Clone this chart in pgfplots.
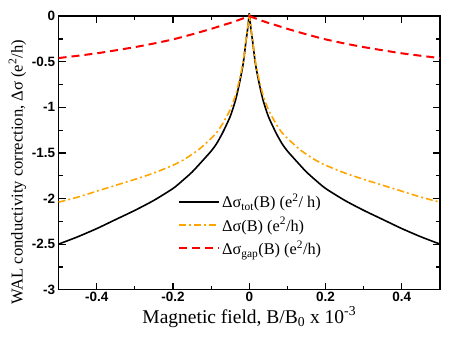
\documentclass[border=0pt]{standalone}
\usepackage{fontspec}
\setmainfont{Liberation Serif}
\setsansfont{Liberation Sans}
\usepackage{pgfplots}
\pgfplotsset{compat=1.18}
\definecolor{walOrange}{RGB}{255,165,0}
\definecolor{walRed}{RGB}{255,0,0}

\begin{document}
\begin{tikzpicture}
% page = 450 x 341 px, 1px = 1pt; axis box placed at (0,0)
\useasboundingbox (-58.6pt,-51.3pt) rectangle (391.4pt,289.7pt);
\begin{axis}[
  scale only axis,
  width=381.4pt, height=273.6pt,
  xmin=-0.5, xmax=0.5, ymin=-3, ymax=0,
  xtick={-0.4,-0.2,0,0.2,0.4},
  xticklabels={-0.4,-0.2,0,0.2,0.4},
  minor xtick={-0.3,-0.1,0.1,0.3},
  ytick={-3,-2.5,-2,-1.5,-1,-0.5,0},
  yticklabels={-3,-2.5,-2,-1.5,-1,-0.5,0},
  minor ytick={-2.75,-2.25,-1.75,-1.25,-0.75,-0.25},
  tick align=inside,
  major tick length=7pt, minor tick length=4pt,
  tick style={line width=1.2pt, black},
  axis line style={line width=1.4pt},
  ticklabel style={font=\sffamily\bfseries\fontsize{13.5}{15}\selectfont},
  xticklabel style={yshift=1pt},
  xlabel={Magnetic field, B/B\textsubscript{0} x 10\textsuperscript{-3}},
  xlabel style={at={(axis description cs:0.5,-0.1)}, anchor=center,
                font=\fontsize{19.5}{21}\selectfont},
  ylabel={WAL conductivity correction, Δσ (e\textsuperscript{2}/h)},
  ylabel style={at={(axis description cs:-0.108,0.43)}, anchor=center,
                font=\fontsize{16.6}{18}\selectfont},
  legend style={at={(0.305,0.365)}, anchor=north west, draw=none, fill=none,
                font=\fontsize{16.3}{18}\selectfont, row sep=4pt,
                cells={anchor=west}},
  legend image code/.code={\draw[#1] (0pt,0pt) -- (40pt,0pt);},
  clip=false,
]
% total correction, left and right branches
\addplot[black, line width=1.6pt, smooth, tension=0.4, forget plot] coordinates {
  (-0.5,-2.50) (-0.45,-2.42) (-0.4,-2.33) (-0.35,-2.23) (-0.3,-2.13)
  (-0.25,-2.02) (-0.2,-1.89) (-0.174,-1.80) (-0.15,-1.71) (-0.13,-1.62)
  (-0.1,-1.48) (-0.086,-1.40) (-0.07,-1.28) (-0.05,-1.10) (-0.036,-0.92)
  (-0.025,-0.72) (-0.016,-0.52) (-0.0085,-0.27) (-0.004,-0.13) (0,0.03)
};
\addplot[black, line width=1.6pt, smooth, tension=0.4] coordinates {
  (0,0.03) (0.004,-0.13) (0.0085,-0.27) (0.016,-0.52) (0.025,-0.72)
  (0.036,-0.92) (0.05,-1.10) (0.07,-1.28) (0.086,-1.40) (0.1,-1.48)
  (0.13,-1.62) (0.15,-1.71) (0.174,-1.80) (0.2,-1.89) (0.25,-2.02)
  (0.3,-2.13) (0.35,-2.23) (0.4,-2.33) (0.45,-2.42) (0.5,-2.50)
};
\addlegendentry{Δσ\textsubscript{tot}(B) (e\textsuperscript{2}/ h)}

\addplot[walOrange, line width=1.6pt, smooth, tension=0.4, forget plot,
         dash pattern=on 7pt off 3pt on 2pt off 3pt] coordinates {
  (-0.5,-2.04) (-0.45,-1.985) (-0.4,-1.92) (-0.35,-1.855) (-0.3,-1.79)
  (-0.25,-1.72) (-0.2,-1.635) (-0.174,-1.58) (-0.15,-1.515) (-0.13,-1.455)
  (-0.1,-1.34) (-0.086,-1.28) (-0.07,-1.18) (-0.05,-1.025) (-0.036,-0.866)
  (-0.025,-0.683) (-0.016,-0.496) (-0.0085,-0.257) (-0.004,-0.124) (0,0.02)
};
\addplot[walOrange, line width=1.6pt, smooth, tension=0.4,
         dash pattern=on 7pt off 3pt on 2pt off 3pt] coordinates {
  (0,0.02) (0.004,-0.124) (0.0085,-0.257) (0.016,-0.496) (0.025,-0.683)
  (0.036,-0.866) (0.05,-1.025) (0.07,-1.18) (0.086,-1.28) (0.1,-1.34)
  (0.13,-1.455) (0.15,-1.515) (0.174,-1.58) (0.2,-1.635) (0.25,-1.72)
  (0.3,-1.79) (0.35,-1.855) (0.4,-1.92) (0.45,-1.985) (0.5,-2.04)
};
\addlegendentry{Δσ(B) (e\textsuperscript{2}/h)}

\addplot[walRed, line width=2pt, smooth, tension=0.4, forget plot,
         dash pattern=on 8pt off 5pt] coordinates {
  (-0.5,-0.46) (-0.45,-0.435) (-0.4,-0.408) (-0.35,-0.375) (-0.3,-0.34)
  (-0.25,-0.30) (-0.2,-0.255) (-0.15,-0.20) (-0.1,-0.14) (-0.07,-0.10)
  (-0.05,-0.075) (-0.03,-0.046) (-0.015,-0.023) (0,0)
};
\addplot[walRed, line width=2pt, smooth, tension=0.4,
         dash pattern=on 8pt off 5pt] coordinates {
  (0,0) (0.015,-0.023) (0.03,-0.046) (0.05,-0.075) (0.07,-0.10)
  (0.1,-0.14) (0.15,-0.20) (0.2,-0.255) (0.25,-0.30) (0.3,-0.34)
  (0.35,-0.375) (0.4,-0.408) (0.45,-0.435) (0.5,-0.46)
};
\addlegendentry{Δσ\textsubscript{gap}(B) (e\textsuperscript{2}/h)}
\end{axis}
\end{tikzpicture}
\end{document}
